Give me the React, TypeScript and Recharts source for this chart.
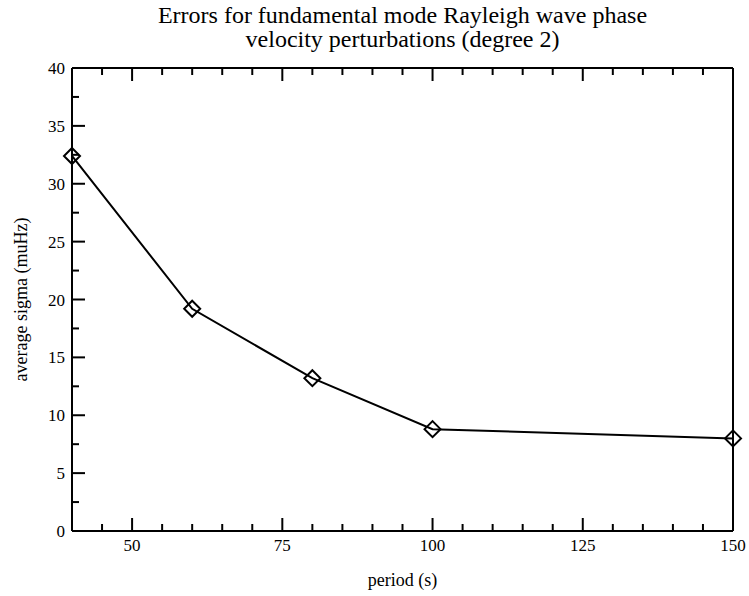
import React from 'react';
import { LineChart, Line, XAxis, YAxis } from 'recharts';

const PERIOD = [40, 60, 80, 100, 150];
const SIGMA = [32.4, 19.2, 13.2, 8.8, 8.0];

const X_TICKS = [45, 50, 55, 60, 65, 70, 75, 80, 85, 90, 95, 100, 105, 110, 115, 120, 125, 130, 135, 140, 145, 150];
const X_MAJOR = [50, 75, 100, 125, 150];
const Y_TICKS = [0, 2.5, 5, 7.5, 10, 12.5, 15, 17.5, 20, 22.5, 25, 27.5, 30, 32.5, 35, 37.5, 40];
const Y_MAJOR = [0, 5, 10, 15, 20, 25, 30, 35, 40];

const TITLE = ['Errors for fundamental mode Rayleigh wave phase', 'velocity perturbations (degree 2)'];
const X_LABEL = 'period (s)';
const Y_LABEL = 'average sigma (muHz)';

const FONT = '"Liberation Serif", "Times New Roman", serif';
const tickText = { fontFamily: FONT, fontSize: 17, fill: '#000' };

const data = PERIOD.map((p, i) => ({ period: p, sigma: SIGMA[i] }));

// ticks point inward, labels only on bottom/left
const XTick = (props: any) => {
  const { x, y, payload, side } = props;
  const major = X_MAJOR.includes(payload.value);
  const len = major ? 13 : 7;
  const dir = side === 'bottom' ? -1 : 1;
  return (
    <g>
      <line x1={x} y1={y} x2={x} y2={y + dir * len} stroke="#000" strokeWidth={2} />
      {side === 'bottom' && major && (
        <text x={x} y={y + 20} textAnchor="middle" style={tickText}>
          {payload.value}
        </text>
      )}
    </g>
  );
};

const YTick = (props: any) => {
  const { x, y, payload, side } = props;
  const major = Y_MAJOR.includes(payload.value);
  const len = major ? 13 : 7;
  const dir = side === 'left' ? 1 : -1;
  return (
    <g>
      <line x1={x} y1={y} x2={x + dir * len} y2={y} stroke="#000" strokeWidth={2} />
      {side === 'left' && major && (
        <text x={x - 7} y={y + 6} textAnchor="end" style={tickText}>
          {payload.value}
        </text>
      )}
    </g>
  );
};

const Diamond = (props: any) => {
  const { cx, cy } = props;
  if (cx == null || cy == null) return null;
  const r = 8;
  return (
    <path
      d={`M${cx},${cy - r}L${cx + r},${cy}L${cx},${cy + r}L${cx - r},${cy}Z`}
      fill="none"
      stroke="#000"
      strokeWidth={2}
    />
  );
};

export default function App() {
  return (
    <div style={{ position: 'absolute', left: 0, top: 0, width: 749, height: 596, background: '#fff' }}>
      <LineChart width={749} height={596} data={data} margin={{ top: 0, right: 0, bottom: 0, left: 0 }}>
        <XAxis
          dataKey="period"
          type="number"
          domain={[40, 150]}
          ticks={X_TICKS}
          interval={0}
          height={65}
          tickSize={0}
          tickMargin={0}
          tickLine={false}
          axisLine={{ stroke: '#000', strokeWidth: 2 }}
          tick={<XTick side="bottom" />}
        />
        <XAxis
          xAxisId="top"
          orientation="top"
          dataKey="period"
          type="number"
          domain={[40, 150]}
          ticks={X_TICKS}
          interval={0}
          height={68}
          tickSize={0}
          tickMargin={0}
          tickLine={false}
          axisLine={{ stroke: '#000', strokeWidth: 2 }}
          tick={<XTick side="top" />}
        />
        <YAxis
          type="number"
          domain={[0, 40]}
          ticks={Y_TICKS}
          interval={0}
          width={72}
          tickSize={0}
          tickMargin={0}
          tickLine={false}
          axisLine={{ stroke: '#000', strokeWidth: 2 }}
          tick={<YTick side="left" />}
        />
        <YAxis
          yAxisId="right"
          orientation="right"
          type="number"
          domain={[0, 40]}
          ticks={Y_TICKS}
          interval={0}
          width={16}
          tickSize={0}
          tickMargin={0}
          tickLine={false}
          axisLine={{ stroke: '#000', strokeWidth: 2 }}
          tick={<YTick side="right" />}
        />
        <Line
          type="linear"
          dataKey="sigma"
          stroke="#000"
          strokeWidth={2}
          dot={<Diamond />}
          isAnimationActive={false}
        />
      </LineChart>
      <svg
        width={749}
        height={596}
        style={{ position: 'absolute', left: 0, top: 0, pointerEvents: 'none', fontFamily: FONT }}
      >
        <text x={402.5} y={23} textAnchor="middle" fontSize={24} fill="#000">{TITLE[0]}</text>
        <text x={402.5} y={47} textAnchor="middle" fontSize={24} fill="#000">{TITLE[1]}</text>
        <text x={402.5} y={586} textAnchor="middle" fontSize={18} fill="#000">{X_LABEL}</text>
        <text x={27} y={299.5} textAnchor="middle" fontSize={18} fill="#000" transform="rotate(-90, 27, 299.5)">
          {Y_LABEL}
        </text>
      </svg>
    </div>
  );
}
